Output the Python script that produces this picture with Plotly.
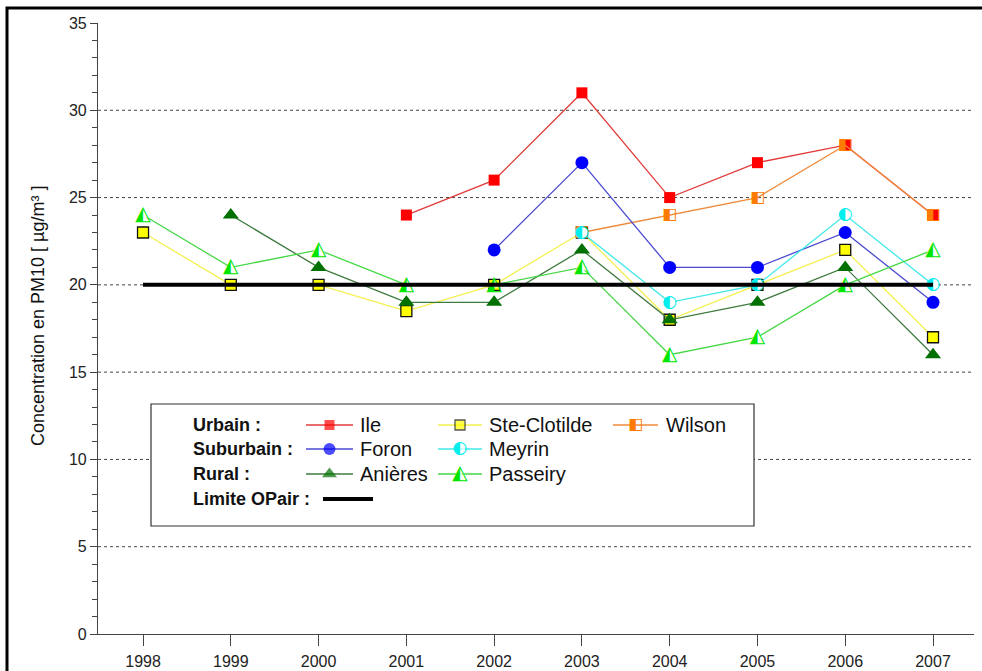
import plotly.graph_objects as go

# ---- data: annual mean PM10 concentration per station (µg/m³) ----
years = [1998, 1999, 2000, 2001, 2002, 2003, 2004, 2005, 2006, 2007]
ile = [None, None, None, 24, 26, 31, 25, 27, 28, 24]
ste_clotilde = [23, 20, 20, 18.5, 20, 23, 18, 20, 22, 17]
wilson = [None, None, None, None, None, 23, 24, 25, 28, 24]
foron = [None, None, None, None, 22, 27, 21, 21, 23, 19]
meyrin = [None, None, None, None, None, 23, 19, 20, 24, 20]
anieres = [None, 24, 21, 19, 19, 22, 18, 19, 21, 16]
passeiry = [24, 21, 22, 20, 20, 21, 16, 17, 20, 22]
limit_value = 20  # OPair annual limit

y_ticks = [0, 5, 10, 15, 20, 25, 30, 35]
grid_levels = [5, 10, 15, 20, 25, 30]

FONT = "Liberation Sans"
W, H = 982, 671
L, R, T, B = 98, 8, 23, 37
PW, PH = W - L - R, H - T - B


def px(xp):
    return (xp - L) / PW


def py(yp):
    return (H - B - yp) / PH


# series styling: name, values, line colour, marker dict, half-fill glyph
# (glyph series use a plain white backing marker under a half-filled symbol)
styles = [
    ("Ile", ile, "#e23a3a",
     dict(symbol="square", size=11, color="#ff0000", line=dict(width=0)), None),
    ("Ste-Clotilde", ste_clotilde, "#f4f050",
     dict(symbol="square", size=11, color="#ffff00", line=dict(color="#111111", width=1.3)), None),
    ("Wilson", wilson, "#f08a3a",
     dict(symbol="square", size=2, color="rgba(255,255,255,0)", line=dict(width=0)),
     ("◧", 16, "#ff7a00")),
    ("Foron", foron, "#4a4ad0",
     dict(symbol="circle", size=13, color="#0000ff", line=dict(width=0)), None),
    ("Meyrin", meyrin, "#40e8e8",
     dict(symbol="circle", size=11, color="white", line=dict(width=0)),
     ("◐", 17, "#00eeee")),
    ("Anières", anieres, "#3f7a3f",
     dict(symbol="triangle-up", size=14, color="#007000", line=dict(width=0)), None),
    ("Passeiry", passeiry, "#45d845",
     dict(symbol="triangle-up", size=11, color="white", line=dict(width=0)),
     ("◭", 20, "#00e600")),
]

fig = go.Figure()


def add_series(xs, ys, lcol, mk, glyph, sizes=None, axes=("x", "y")):
    m = dict(mk)
    if sizes is not None:
        m["size"] = sizes
    fig.add_trace(go.Scatter(
        x=xs, y=ys, mode="lines+markers", xaxis=axes[0], yaxis=axes[1],
        line=dict(color=lcol, width=1.3), marker=m,
        connectgaps=False, showlegend=False, cliponaxis=False, hoverinfo="skip",
    ))
    if glyph is not None:
        ch, fs, gcol = glyph
        txt = [ch if (v is not None and (sizes is None or sizes[i] > 0)) else ""
               for i, v in enumerate(ys)]
        fig.add_trace(go.Scatter(
            x=xs, y=ys, mode="text", text=txt, textposition="middle center",
            xaxis=axes[0], yaxis=axes[1],
            textfont=dict(family="DejaVu Sans", size=fs, color=gcol),
            showlegend=False, cliponaxis=False, hoverinfo="skip",
        ))


for name, vals, lcol, mk, glyph in styles:
    add_series(years, vals, lcol, mk, glyph)

# limit line across the whole period
fig.add_trace(go.Scatter(
    x=[years[0], years[-1]], y=[limit_value, limit_value], mode="lines",
    line=dict(color="black", width=4), name="Limite OPair", showlegend=False,
))

# ---- gridlines, legend box and outer frame ----
shapes = []
for g in grid_levels:
    shapes.append(dict(type="line", xref="paper", yref="y", x0=0, x1=1, y0=g, y1=g,
                       line=dict(color="#444444", width=1, dash="dot"), layer="below"))

shapes.append(dict(type="rect", xref="paper", yref="paper",
                   x0=px(151), x1=px(754), y0=py(526), y1=py(404),
                   line=dict(color="#333333", width=1.2), fillcolor="white", layer="below"))

shapes.append(dict(type="rect", xref="paper", yref="paper",
                   x0=px(7), x1=px(1000), y0=py(690), y1=py(8),
                   line=dict(color="black", width=3), fillcolor="rgba(0,0,0,0)"))

row_y = [425, 449, 474, 499]
groups = ["Urbain :", "Suburbain :", "Rural :", "Limite OPair :"]
annotations = []
for label, yy in zip(groups, row_y):
    annotations.append(dict(x=px(191), y=py(yy), xref="paper", yref="paper",
                            text="<b>" + label + "</b>", showarrow=False,
                            xanchor="left", yanchor="middle",
                            font=dict(family=FONT, size=18, color="#111111")))

# legend sample positions: (line start, line end, text start) per column
cols = [(306, 353, 358), (438, 482, 487), (613, 658, 664)]
legend_rows = [
    [styles[0], styles[1], styles[2]],
    [styles[3], styles[4]],
    [styles[5], styles[6]],
]
for r, items in enumerate(legend_rows):
    for c, (name, _, lcol, mk, glyph) in enumerate(items):
        x0, x1, xt = cols[c]
        yy = py(row_y[r])
        add_series([px(x0), px((x0 + x1) / 2), px(x1)], [yy, yy, yy], lcol, mk, glyph,
                   sizes=[0, mk["size"] - 1, 0], axes=("x2", "y2"))
        annotations.append(dict(x=px(xt), y=yy, xref="paper", yref="paper",
                                text=name, showarrow=False, xanchor="left",
                                yanchor="middle",
                                font=dict(family=FONT, size=20, color="#111111")))

# limit sample
fig.add_trace(go.Scatter(
    x=[px(323), px(373)], y=[py(row_y[3]), py(row_y[3])], xaxis="x2", yaxis="y2",
    mode="lines", line=dict(color="black", width=4), showlegend=False, hoverinfo="skip",
))

# y-axis title
annotations.append(dict(x=px(38), y=py(316), xref="paper", yref="paper",
                        text="Concentration en PM10 [ µg/m³ ]", textangle=-90,
                        showarrow=False, xanchor="center", yanchor="middle",
                        font=dict(family=FONT, size=18, color="#111111")))

fig.update_layout(
    width=W, height=H,
    margin=dict(l=L, r=R, t=T, b=B, pad=0, autoexpand=False),
    paper_bgcolor="white", plot_bgcolor="white",
    shapes=shapes, annotations=annotations,
    xaxis=dict(range=[1997.487, 2007.467], tickvals=years,
               ticktext=[str(y) for y in years], automargin=False,
               showgrid=False, zeroline=False, showline=True,
               linecolor="#444444", linewidth=1.2,
               ticks="outside", ticklen=11, tickcolor="#444444", tickwidth=1.2,
               ticklabelstandoff=2,
               tickfont=dict(family=FONT, size=16, color="#222222")),
    yaxis=dict(range=[0, 35], tickvals=y_ticks, showgrid=False, zeroline=False,
               automargin=False,
               showline=True, linecolor="#444444", linewidth=1.2,
               ticks="outside", ticklen=7, tickcolor="#444444", tickwidth=1.2,
               minor=dict(dtick=1, ticks="outside", ticklen=5, tickcolor="#444444"),
               tickfont=dict(family=FONT, size=16, color="#222222")),
    xaxis2=dict(range=[0, 1], domain=[0, 1], overlaying="x", visible=False,
                fixedrange=True),
    yaxis2=dict(range=[0, 1], domain=[0, 1], overlaying="y", visible=False,
                fixedrange=True),
)

fig.write_html("out.html")
